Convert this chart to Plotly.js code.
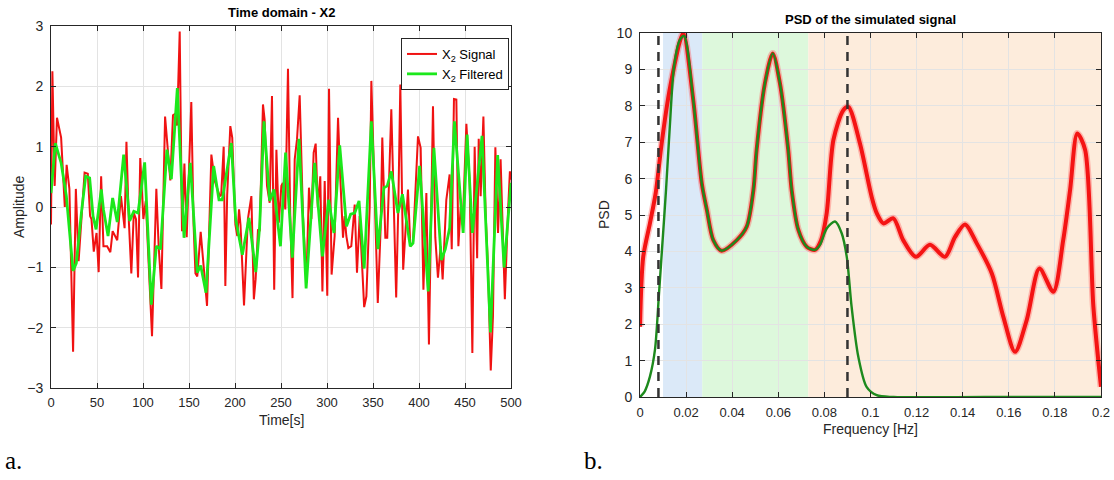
<!DOCTYPE html>
<html>
<head>
<meta charset="utf-8">
<script src="https://cdn.plot.ly/plotly-3.0.1.min.js"></script>
<style>
  html, body { margin: 0; padding: 0; background: #ffffff; }
  #chart { width: 1114px; height: 480px; }
</style>
</head>
<body>
<div id="chart"></div>
<script>
// ---------- Panel a: time domain ----------
const signalTime = [0,1.5,4,6.5,11,15,17,20,24,27,30,36.5,40,42.5,44,46.5,49.5,51.8,54.5,57,61,64.5,67,72,76,80,82,84.5,87.3,90,92.4,94.6,97,100.4,103,105,109.8,114.5,117,120,122,124,129.7,132.6,135.5,137,139.9,142.4,145,147.5,152.5,155,157,159,162.7,166,169.6,
  174.3,178,183.4,185,187.7,189.5,191.5,194.9,197,200.4,202.5,204.4,206,209.8,214,217.8,220.5,222.4,225,226.8,230.4,232.2,234.8,237.7,240.2,242.6,245,247.6,250.4,252,254.7,257.6,260,262.5,264.9,267.4,270.3,273.9,277.6,280.4,283,285.5,287.7,290,292.7,295,297.5,300.3,302.2,305,308.3,312,314.5,317.4,319.2,321,323.2,326.4,330.1,332.6,335.5,
  340.4,342.8,346.4,348.2,351.8,355.2,358.3,360.1,363.4,365.5,369.9,373.5,375.2,377.5,379.7,382.8,388,390.6,393.5,398.9,401.8,404.8,408,410.8,413,415.2,417.7,420.6,423.5,425.7,429.7,433.3,435.6,438,440.6,442.8,445.3,447.5,451.5,455.1,458,460.5,463.2,464.9,467,470,472.4,475,478,480.4,483,485.9,488.7,493.3,496.7,498.8,500];
const signalValue = [-0.29,2.25,0.35,1.48,1.15,0.0,0.7,0.3,-2.4,0.3,-0.9,0.57,0.55,-0.15,-0.2,-0.74,-0.43,-1.08,0.51,-0.65,-0.65,-0.75,-0.4,-0.55,0.18,-0.35,1.08,-0.2,-1.1,-0.1,-0.2,-1.17,0.81,-0.2,0.1,-0.5,-2.14,0.3,-0.65,-1.36,0.0,1.5,0.44,1.52,1.55,1.35,2.91,-0.4,0.72,-0.5,1.74,-0.3,-1.1,-1.15,-0.41,-1.0,-1.64,
  0.87,0.43,0.18,0.2,1.0,-1.31,0.2,1.34,1.15,-0.29,-0.48,-0.04,-0.3,-1.63,-0.2,0.18,-1.53,-1.2,-0.37,-0.4,1.7,1.45,0.35,0.07,1.84,-1.37,0.95,-0.26,0.35,0.4,-0.04,2.29,-0.1,-1.51,0.79,1.12,1.85,-0.15,-1.26,0.32,-0.2,0.9,1.05,0.0,0.51,-1.4,0.43,-1.47,1.96,-1.12,-0.48,1.48,0.46,-0.51,-0.15,-0.48,-0.68,-0.65,0.04,-1.09,-0.15,
  -1.66,-1.48,0.0,2.09,0.23,-1.59,-0.35,1.15,-0.51,-0.51,1.62,-0.26,-1.5,0.0,2.03,-1.04,0.29,-0.65,-0.59,1.17,0.98,-1.37,0.23,-2.28,-0.2,1.67,-0.5,-1.17,-0.65,-1.2,0.12,0.54,-0.7,1.79,1.78,-0.65,0.0,-0.3,1.38,0.4,-2.42,1.0,-0.85,1.13,0.18,1.5,-0.1,-1.0,-2.71,-1.81,0.99,-0.43,0.79,-1.53,-0.1,0.59,0.45];

const filteredTime = [0,4.7,11,16.7,24,27.5,33,37.7,42,45.7,49,54.7,57,62,67,72,79,85.5,90,94.6,101.8,109,114.5,119,126,130.8,137.3,144.6,151.4,159,162.7,168.5,176.8,182.6,186.2,196,200.7,208,215.2,222.6,226.8,231.5,237.7,242.4,249.4,255,262.3,269.6,277.3,286.6,295,301.8,307.6,313.8,321.2,325.7,330.1,334.8,340.4,348.2,355.3,361.9,365.5,369.9,377.1,382,390.5,393.5,400.7,410,416.2,424.3,428.6,433.3,438.5,444,448,452.3,458,468.5,477.7,485.5,492.5,500];
const filteredValue = [0.23,1.06,0.73,0.18,-1.06,-0.93,-0.1,0.51,0.48,-0.15,-0.37,0.29,-0.04,-0.48,0.15,-0.25,0.87,-0.23,-0.07,-0.1,0.74,-1.62,-0.65,-0.7,0.95,0.46,1.97,-0.51,0.73,-1.09,-0.97,-1.42,0.68,0.12,0.12,1.06,-0.2,-0.79,-0.18,-1.08,-0.32,1.42,0.1,0.29,-0.65,0.9,-0.84,1.13,-1.35,0.73,-0.82,0.12,-0.43,1.02,-0.32,-0.12,-0.1,0.1,-1.02,1.42,-0.7,0.32,0.35,0.59,-0.1,0.21,-0.65,-0.6,0.68,-1.4,0.98,-0.88,-0.7,-0.35,1.42,0.25,-0.43,1.2,-0.43,1.18,-2.08,0.86,-1.0,0.4];

// ---------- Panel b: PSD ----------
const psdFreq = [0,0.0014,0.0043,0.0068,0.0094,0.0122,0.0149,0.0172,0.0188,0.0231,0.0268,0.029,0.0318,0.0354,0.042,0.0463,0.0492,0.0506,0.0542,0.0576,0.0607,0.0643,0.0658,0.0687,0.0723,0.0759,0.0785,0.081,0.0839,0.0882,0.0904,0.0954,0.1005,0.1027,0.1056,0.1099,0.1142,0.1197,0.1258,0.1323,0.1367,0.141,0.1461,0.1526,0.1576,0.1627,0.1678,0.1733,0.1793,0.1836,0.1866,0.1897,0.1931,0.1967,0.2];
const psdSignal = [1.93,3.85,4.77,5.6,6.97,8.2,9.1,9.75,10.0,8.16,5.87,5.14,4.31,4.02,4.31,4.68,5.69,6.79,8.62,9.44,8.62,6.79,5.69,4.59,4.13,4.04,4.3,5.05,7.06,7.88,7.97,6.97,5.5,5.05,4.77,4.91,4.31,3.85,4.18,3.85,4.4,4.74,4.22,3.4,2.21,1.24,2.12,3.53,2.89,4.31,5.69,7.24,6.79,2.48,0.28];

const filteredFreq = [0,0.002,0.0043,0.0065,0.0082,0.0097,0.0113,0.013,0.0148,0.0172,0.0191,0.0231,0.0268,0.029,0.0318,0.0354,0.042,0.0463,0.0492,0.0506,0.0542,0.0576,0.0607,0.0643,0.0658,0.0687,0.0723,0.0759,0.0781,0.081,0.0846,0.0875,0.0897,0.0918,0.0947,0.0983,0.1027,0.11,0.15,0.2];
const filteredPsd = [0,0.15,0.56,1.3,2.8,4.2,5.7,7.5,9.1,9.8,9.92,8.16,5.87,5.14,4.31,4.02,4.31,4.68,5.69,6.79,8.62,9.44,8.62,6.79,5.69,4.59,4.13,4.04,4.18,4.63,4.82,4.5,3.85,2.48,1.11,0.28,0.05,0,0,0];

const bandEdges = [0.01, 0.027, 0.073, 0.2];
const bandColors = ['#dbe9f8', '#ddf8dc', '#fdecdc'];
const markerFreqs = [0.008, 0.09];

const xTicksA = [0,50,100,150,200,250,300,350,400,450,500];
const yTicksA = [-3,-2,-1,0,1,2,3];
const xTicksB = [0,0.02,0.04,0.06,0.08,0.1,0.12,0.14,0.16,0.18,0.2];
const yTicksB = [0,1,2,3,4,5,6,7,8,9,10];

const W = 1114, H = 480;
const px = v => v / W;
const py = v => 1 - v / H;

const traces = [
  {x: signalTime, y: signalValue, type: 'scatter', mode: 'lines', name: 'X<sub>2</sub> Signal',
   line: {color: '#f01212', width: 2}, xaxis: 'x', yaxis: 'y'},
  {x: filteredTime, y: filteredValue, type: 'scatter', mode: 'lines', name: 'X<sub>2</sub> Filtered',
   line: {color: '#1be81b', width: 2.8}, xaxis: 'x', yaxis: 'y'},
  {x: psdFreq, y: psdSignal, type: 'scatter', mode: 'lines', showlegend: false,
   line: {color: 'rgba(255,80,80,0.35)', width: 7, shape: 'spline', smoothing: 0.8}, xaxis: 'x2', yaxis: 'y2', hoverinfo: 'skip'},
  {x: psdFreq, y: psdSignal, type: 'scatter', mode: 'lines', showlegend: false,
   line: {color: '#f41414', width: 4, shape: 'spline', smoothing: 0.8}, xaxis: 'x2', yaxis: 'y2'},
  {x: filteredFreq, y: filteredPsd, type: 'scatter', mode: 'lines', showlegend: false,
   line: {color: '#1d8a1d', width: 2.4, shape: 'spline', smoothing: 0.8}, xaxis: 'x2', yaxis: 'y2'}
];
markerFreqs.forEach(f => traces.push({
  x: [f, f], y: [yTicksB[0], yTicksB[yTicksB.length - 1]], type: 'scatter', mode: 'lines', showlegend: false,
  line: {color: '#333333', width: 2.5, dash: '9px,7px'}, xaxis: 'x2', yaxis: 'y2'
}));

const shapes = [];
for (let i = 0; i < bandColors.length; i++) {
  shapes.push({type: 'rect', xref: 'x2', yref: 'y2', x0: bandEdges[i], x1: bandEdges[i + 1],
    y0: yTicksB[0], y1: yTicksB[yTicksB.length - 1], fillcolor: bandColors[i], line: {width: 0}, layer: 'below'});
}

const font = 'Liberation Sans, Arial, sans-serif';
const axisBase = {
  showline: true, mirror: 'ticks', linecolor: '#262626', linewidth: 1,
  ticks: 'inside', ticklen: 5, tickcolor: '#262626',
  showgrid: true, gridcolor: '#e3e3e3', gridwidth: 1, zeroline: false,
  tickfont: {family: font, size: 14, color: '#262626'}, fixedrange: true
};
const xTickFont = {family: font, size: 13, color: '#262626'};
const labelFont = {family: font, size: 14, color: '#262626'};
const textAt = (text, x, y, extra) => Object.assign({text: text, xref: 'paper', yref: 'paper', x: px(x), y: py(y),
  xanchor: 'center', yanchor: 'middle', showarrow: false, font: labelFont}, extra || {});

const layout = {
  width: W, height: H,
  margin: {l: 0, r: 0, t: 0, b: 0},
  paper_bgcolor: '#ffffff', plot_bgcolor: '#ffffff',
  showlegend: true,
  legend: {x: px(509), y: py(38), xanchor: 'right', yanchor: 'top',
    bgcolor: '#ffffff', bordercolor: '#262626', borderwidth: 1,
    font: {family: font, size: 13, color: '#000000'}, tracegroupgap: 0},
  xaxis: Object.assign({}, axisBase, {domain: [px(51), px(511)], range: [0, 500], tickvals: xTicksA, anchor: 'y',
    ticklabelstandoff: 2, tickfont: xTickFont}),
  yaxis: Object.assign({}, axisBase, {domain: [py(388), py(26)], range: [-3, 3], tickvals: yTicksA, anchor: 'x',
    ticklabelstandoff: 4}),
  xaxis2: Object.assign({}, axisBase, {domain: [px(640), px(1101)], range: [0, 0.2], tickvals: xTicksB, anchor: 'y2',
    ticklabelstandoff: 3, tickfont: xTickFont}),
  yaxis2: Object.assign({}, axisBase, {domain: [py(397), py(33)], range: [0, 10], tickvals: yTicksB, anchor: 'x2',
    ticklabelstandoff: 4}),
  shapes: shapes,
  annotations: [
    textAt('<b>Time domain - X2</b>', 281, 12, {font: {family: font, size: 13, color: '#000000'}}),
    textAt('<b>PSD of the simulated signal</b>', 870, 20, {font: {family: font, size: 13, color: '#000000'}}),
    textAt('Time[s]', 281, 420),
    textAt('Amplitude', 19, 207, {textangle: -90}),
    textAt('Frequency [Hz]', 870, 429),
    textAt('PSD', 604, 215, {textangle: -90}),
    textAt('a.', 3, 460, {xanchor: 'left', font: {family: 'Liberation Serif, Times New Roman, serif', size: 25, color: '#000000'}}),
    textAt('b.', 582, 460, {xanchor: 'left', font: {family: 'Liberation Serif, Times New Roman, serif', size: 25, color: '#000000'}})
  ]
};

Plotly.newPlot('chart', traces, layout, {displayModeBar: false, staticPlot: true});
</script>
</body>
</html>
